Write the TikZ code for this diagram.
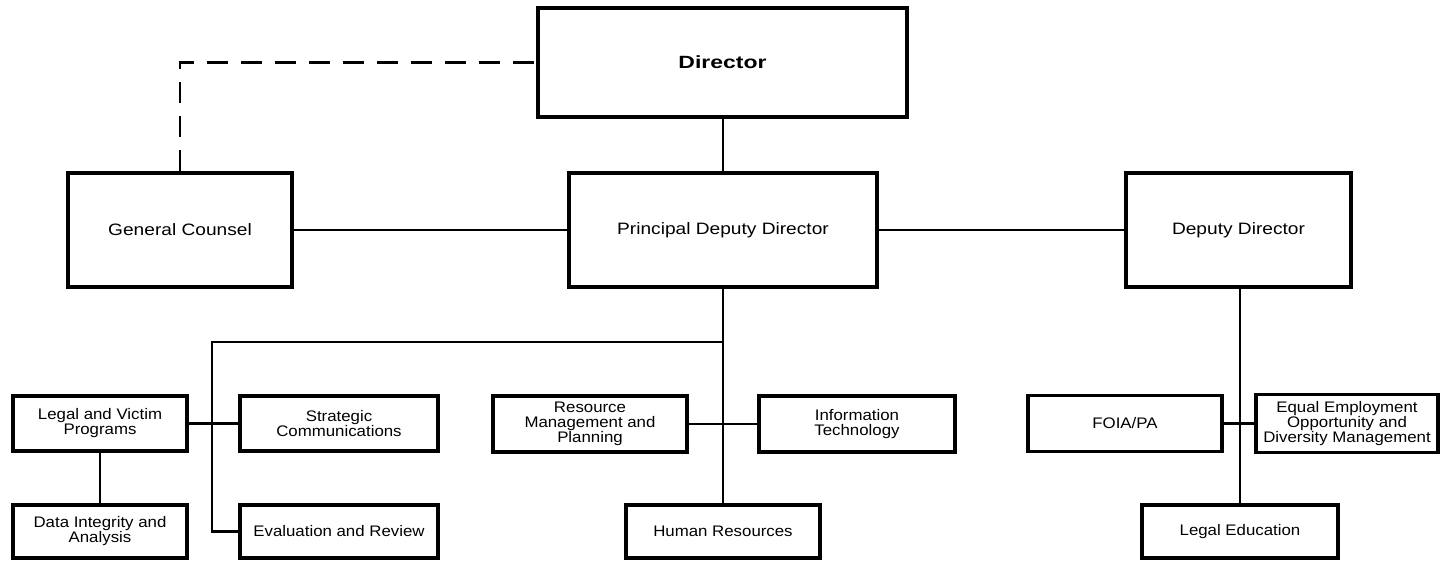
\documentclass[tikz,border=0pt]{standalone}
\usepackage{fontspec}
\setmainfont{Liberation Sans}[FakeStretch=1.16]
\newfontfamily\dirfont{Liberation Sans}[FakeStretch=1.3]
\newfontfamily\subfont{Liberation Sans}[FakeStretch=1.1]
\begin{document}
\begin{tikzpicture}[x=1pt,y=-1pt,
  box/.style={draw, line width=3.8pt, inner sep=0pt, align=center},
  topbox/.style={box, font=\fontsize{16.5}{18}\selectfont},
  subbox/.style={box, font=\subfont\fontsize{15.3}{15}\selectfont},
  link/.style={line width=2.2pt},
  dlink/.style={line width=2.2pt, dash pattern=on 21pt off 13pt}]
\useasboundingbox (0,0) rectangle (1441,561);
% top level
\node[box, minimum width=369pt, minimum height=109pt, font=\dirfont\bfseries\fontsize{17.7}{19}\selectfont] (dir) at (722.5,62.5) {Director};
\node[topbox, minimum width=224pt, minimum height=114pt] (gc) at (180,230) {General Counsel};
\node[topbox, minimum width=308pt, minimum height=114pt] (pdd) at (723,230) {Principal Deputy Director};
\node[topbox, minimum width=225pt, minimum height=114pt] (dd) at (1238.5,230) {Deputy Director};
% sub units
\node[subbox, minimum width=174pt, minimum height=55pt] (lv) at (100,423.5) {Legal and Victim\\Programs};
\node[subbox, minimum width=174pt, minimum height=53pt] (di) at (100,531.5) {Data Integrity and\\Analysis};
\node[subbox, minimum width=198pt, minimum height=55pt] (sc) at (339,423.5) {Strategic\\Communications};
\node[subbox, minimum width=198pt, minimum height=53pt] (er) at (339,531.5) {Evaluation and Review};
\node[subbox, minimum width=194pt, minimum height=56pt] (rmp) at (590,424) {Resource\\Management and\\Planning};
\node[subbox, minimum width=196pt, minimum height=56pt] (it) at (857,424) {Information\\Technology};
\node[subbox, minimum width=194pt, minimum height=53pt] (hr) at (723,531.5) {Human Resources};
\node[subbox, minimum width=194pt, minimum height=56pt] (foia) at (1125,423.5) {FOIA/PA};
\node[subbox, minimum width=182pt, minimum height=58pt] (eeo) at (1347,423.5) {Equal Employment\\Opportunity and\\Diversity Management};
\node[subbox, minimum width=196pt, minimum height=53pt] (le) at (1240,531.5) {Legal Education};
% connectors
\coordinate (br) at (723,342);
\coordinate (brl) at (212,342);
\draw[link] (dir.south -| pdd.north) -- (pdd.north);
\draw[link] (gc.east) -- (pdd.west);
\draw[link] (pdd.east) -- (dd.west);
\draw[dlink] (gc.north) |- (dir.west);
\draw[link] (pdd.south) -- (hr.north);
\draw[link] (br) -- (brl) |- (er.west);
\draw[link] (lv.east) -- (sc.west);
\draw[link] (lv.south) -- (di.north);
\draw[link] (rmp.east) -- (it.west);
\draw[link] (dd.south -| le.north) -- (le.north);
\draw[link] (foia.east) -- (eeo.west);
\end{tikzpicture}
\end{document}
